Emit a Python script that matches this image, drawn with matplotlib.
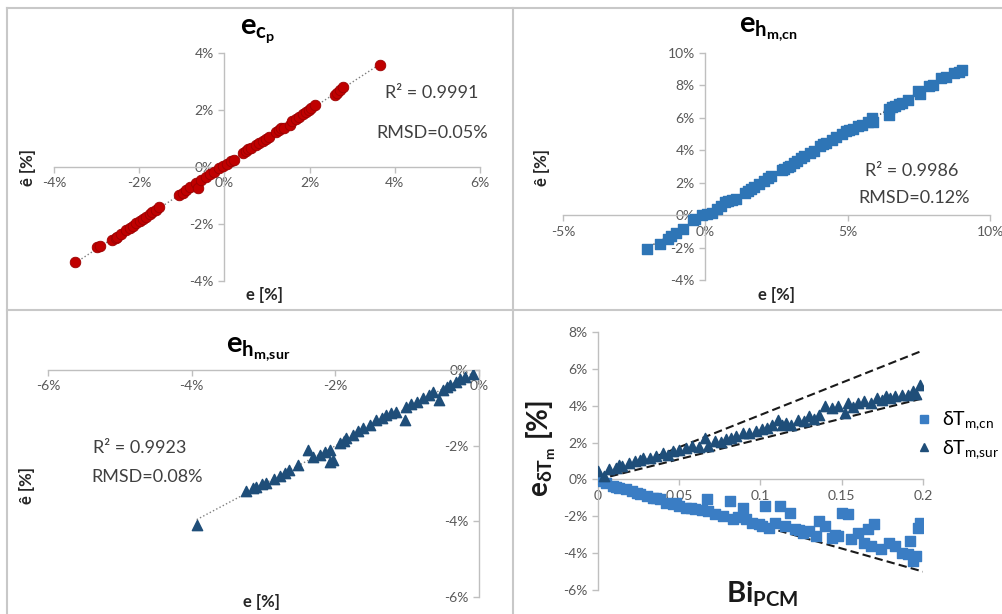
import matplotlib
matplotlib.use("Agg")
import matplotlib.pyplot as plt
import numpy as np
from matplotlib.ticker import FuncFormatter, MultipleLocator
from matplotlib.lines import Line2D

plt.rcParams['font.family'] = ['Lato', 'DejaVu Sans']
plt.rcParams['mathtext.fontset'] = 'custom'
plt.rcParams['mathtext.rm'] = 'Lato'
plt.rcParams['mathtext.it'] = 'Lato:italic'
plt.rcParams['mathtext.bf'] = 'Lato:bold'
plt.rcParams['axes.unicode_minus'] = False

# --- data (values in %) ---
# e_cp
cp_x = [-3.50, -2.98, -2.93, -2.63, -2.55, -2.51, -2.42, -2.31, -2.22, -2.15,
        -2.08, -1.98, -1.90, -1.84, -1.75, -1.69, -1.60, -1.53, -1.06, -0.98,
        -0.90, -0.80, -0.67, -0.63, -0.55, -0.43, -0.33, -0.24, -0.12, -0.04,
        0.05, 0.16, 0.22, 0.43, 0.50, 0.55, 0.62, 0.75, 0.82, 0.90,
        0.98, 1.05, 1.22, 1.28, 1.33, 1.40, 1.53, 1.58, 1.69, 1.75,
        1.84, 1.92, 1.98, 2.04, 2.12, 2.59, 2.65, 2.72, 2.78, 3.65]
cp_y = [-3.32, -2.82, -2.78, -2.56, -2.49, -2.44, -2.34, -2.22, -2.14, -2.06,
        -1.98, -1.90, -1.82, -1.74, -1.66, -1.58, -1.50, -1.40, -0.98, -0.90,
        -0.80, -0.70, -0.55, -0.75, -0.46, -0.36, -0.26, -0.16, -0.05, 0.04,
        0.12, 0.20, 0.24, 0.48, 0.55, 0.62, 0.66, 0.78, 0.84, 0.92,
        1.00, 1.06, 1.22, 1.30, 1.36, 1.38, 1.48, 1.60, 1.70, 1.76,
        1.86, 1.92, 2.00, 2.08, 2.16, 2.52, 2.60, 2.70, 2.80, 3.57]

# e_hm,cn
cn_x = [-2.05, -1.60, -1.30, -1.22, -1.03, -0.80, -0.45, -0.35, -0.10, 0.05,
        0.23, 0.40, 0.55, 0.69, 0.80, 0.92, 1.09, 1.40, 1.49, 1.60,
        1.72, 1.90, 2.07, 2.20, 2.30, 2.70, 2.76, 2.90, 2.99, 3.10,
        3.22, 3.35, 3.45, 3.68, 3.80, 4.02, 4.15, 4.25, 4.45, 4.60,
        4.80, 4.94, 5.05, 5.17, 5.35, 5.52, 5.70, 5.86, 5.90, 6.44,
        6.45, 6.55, 6.67, 6.80, 6.90, 7.13, 7.47, 7.55, 7.87, 8.00,
        8.28, 8.45, 8.74, 8.90, 9.02]
cn_y = [-2.10, -1.75, -1.45, -1.30, -1.08, -0.85, -0.30, -0.25, 0.00, 0.05,
        0.16, 0.37, 0.55, 0.78, 0.85, 0.94, 1.02, 1.35, 1.50, 1.62,
        1.76, 1.92, 2.11, 2.30, 2.42, 2.78, 2.83, 2.95, 3.03, 3.20,
        3.34, 3.50, 3.65, 3.85, 3.95, 4.26, 4.36, 4.47, 4.65, 4.84,
        5.00, 5.18, 5.25, 5.33, 5.48, 5.59, 5.75, 6.00, 5.75, 6.52,
        6.20, 6.65, 6.72, 6.85, 6.93, 7.13, 7.64, 7.45, 7.95, 8.05,
        8.46, 8.55, 8.77, 8.85, 8.93]

# e_hm,sur
sur_x = [-3.93, -3.24, -3.15, -3.10, -3.02, -2.96, -2.85, -2.77, -2.70, -2.64,
         -2.52, -2.38, -2.31, -2.22, -2.15, -2.08, -2.03, -2.08, -1.94, -1.88,
         -1.85, -1.75, -1.68, -1.61, -1.52, -1.43, -1.35, -1.29, -1.22, -1.15,
         -1.03, -1.01, -0.94, -0.87, -0.78, -0.70, -0.64, -0.55, -0.50, -0.45,
         -0.41, -0.32, -0.26, -0.20, -0.09]
sur_y = [-4.09, -3.20, -3.12, -3.08, -3.02, -2.99, -2.88, -2.81, -2.72, -2.64,
         -2.51, -2.11, -2.29, -2.24, -2.18, -2.11, -2.37, -2.42, -1.93, -1.88,
         -1.80, -1.71, -1.62, -1.54, -1.45, -1.32, -1.26, -1.19, -1.14, -1.10,
         -1.32, -0.97, -0.90, -0.84, -0.75, -0.66, -0.57, -0.79, -0.53, -0.46,
         -0.40, -0.31, -0.24, -0.18, -0.10]

# e_dTm vs Bi_PCM
bi_sur = [0.000, 0.004, 0.007, 0.011, 0.015, 0.019, 0.023, 0.028, 0.032, 0.036,
          0.040, 0.046, 0.050, 0.054, 0.058, 0.066, 0.068, 0.072, 0.079, 0.085,
          0.089, 0.093, 0.097, 0.101, 0.107, 0.111, 0.113, 0.119, 0.123, 0.130,
          0.136, 0.140, 0.144, 0.148, 0.152, 0.154, 0.160, 0.164, 0.168, 0.172,
          0.177, 0.183, 0.187, 0.191, 0.194, 0.198,
          0.013, 0.026, 0.043, 0.062, 0.076, 0.082, 0.104, 0.116, 0.127, 0.133,
          0.157, 0.175, 0.180, 0.196]
dT_sur = [0.45, 0.18, 0.54, 0.63, 0.72, 0.90, 0.99, 1.17, 1.17, 1.26,
          1.44, 1.53, 1.62, 1.71, 1.80, 2.26, 1.80, 2.08, 2.17, 2.35,
          2.53, 2.53, 2.62, 2.71, 2.98, 3.25, 2.98, 2.98, 3.25, 3.43,
          3.52, 3.97, 3.88, 3.97, 3.61, 4.15, 4.15, 4.24, 4.15, 4.42,
          4.51, 4.51, 4.60, 4.60, 4.78, 5.14,
          0.80, 1.05, 1.35, 1.75, 2.05, 2.25, 2.80, 3.05, 3.15, 3.30,
          3.95, 4.30, 4.40, 4.65]
bi_cn = [0.000, 0.005, 0.009, 0.013, 0.017, 0.021, 0.026, 0.030, 0.034, 0.038,
         0.042, 0.046, 0.050, 0.054, 0.060, 0.067, 0.068, 0.072, 0.077, 0.081,
         0.083, 0.089, 0.091, 0.095, 0.099, 0.103, 0.105, 0.109, 0.112, 0.115,
         0.118, 0.121, 0.126, 0.130, 0.134, 0.136, 0.140, 0.144, 0.148, 0.150,
         0.154, 0.156, 0.160, 0.164, 0.166, 0.168, 0.170, 0.174, 0.179, 0.183,
         0.187, 0.191, 0.192, 0.194, 0.196, 0.197, 0.198,
         0.011, 0.024, 0.036, 0.048, 0.057, 0.064, 0.086, 0.101, 0.124, 0.146]
dT_cn = [-0.09, -0.18, -0.36, -0.45, -0.54, -0.63, -0.81, -0.90, -0.99, -1.08,
         -1.26, -1.35, -1.44, -1.53, -1.62, -1.08, -1.71, -1.90, -1.99, -1.17,
         -2.17, -1.53, -2.17, -2.35, -2.44, -1.44, -2.62, -2.35, -1.44, -2.53,
         -1.80, -2.71, -2.89, -2.80, -3.07, -2.26, -2.53, -3.16, -3.07, -1.80,
         -1.90, -3.25, -2.89, -3.43, -2.71, -3.61, -2.44, -3.79, -3.43, -3.61,
         -3.97, -4.06, -3.34, -4.42, -4.15, -2.62, -2.35,
         -0.40, -0.72, -1.02, -1.30, -1.55, -1.65, -2.05, -2.55, -2.75, -3.00]

# dashed envelope lines
bound_x = [0.0, 0.2]
bound_upper = [0.0, 7.0]
bound_mid = [0.0, 4.4]
bound_lower = [0.0, -5.0]

W, H = 1003, 614
fig = plt.figure(figsize=(W / 100, H / 100), dpi=100)

AXC = '#BFBFBF'
TXT = '#595959'


def px_axes(x0, x1, y_top, y_bot):
    return fig.add_axes([x0 / W, 1 - y_bot / H, (x1 - x0) / W, (y_bot - y_top) / H])


def style(ax, xlim, ylim, xstep, ystep, xpct=True):
    ax.set_xlim(*xlim)
    ax.set_ylim(*ylim)
    ax.patch.set_alpha(0)
    for s in ['top', 'right']:
        ax.spines[s].set_visible(False)
    ax.spines['left'].set_position(('data', 0))
    ax.spines['bottom'].set_position(('data', 0))
    for s in ['left', 'bottom']:
        ax.spines[s].set_color(AXC)
        ax.spines[s].set_linewidth(1.0)
    ax.xaxis.set_major_locator(MultipleLocator(xstep))
    ax.yaxis.set_major_locator(MultipleLocator(ystep))
    if xpct:
        ax.xaxis.set_major_formatter(FuncFormatter(lambda v, p: f"{v:.0f}%"))
    else:
        ax.xaxis.set_major_formatter(FuncFormatter(lambda v, p: f"{v:g}"))
    ax.yaxis.set_major_formatter(FuncFormatter(lambda v, p: f"{v:.0f}%"))
    ax.tick_params(colors=AXC, labelcolor=TXT, labelsize=10, length=4, width=1.0, direction='out')


def trend(ax, x, y, color):
    k, b = np.polyfit(x, y, 1)
    xs = np.array([min(x), max(x)])
    ax.plot(xs, k * xs + b, ':', color=color, linewidth=1.0, zorder=2)


note = dict(fontsize=13, color='#404040', ha='center', va='center')

# panel 1: e_cp
ax1 = px_axes(54, 480, 53, 281)
style(ax1, (-4, 6), (-4, 4), 2, 2)
trend(ax1, cp_x, cp_y, '#7F7F7F')
ax1.scatter(cp_x, cp_y, s=58, marker='o', color='#C00000', edgecolor='#9A0000', linewidth=0.6, zorder=3)
ax1.text(4.87, 2.6, 'R² = 0.9991', **note)
ax1.text(4.87, 1.2, 'RMSD=0.05%', **note)

# panel 2: e_hm,cn
ax2 = px_axes(563, 990, 53, 280)
style(ax2, (-5, 10), (-4, 10), 5, 2)
trend(ax2, cn_x, cn_y, '#404040')
ax2.scatter(cn_x, cn_y, s=50, marker='s', color='#2E75B6', edgecolor='#2E75B6', zorder=3)
ax2.text(7.26, 2.7, 'R² = 0.9986', **note)
ax2.text(7.35, 1.05, 'RMSD=0.12%', **note)

# panel 3: e_hm,sur
ax3 = px_axes(48, 479, 370, 597)
style(ax3, (-6, 0), (-6, 0), 2, 2)
trend(ax3, sur_x, sur_y, '#7F7F7F')
ax3.scatter(sur_x, sur_y, s=55, marker='^', color='#1F4E79', edgecolor='#1F4E79', zorder=3)
ax3.text(-4.72, -2.06, 'R² = 0.9923', **note)
ax3.text(-4.62, -2.82, 'RMSD=0.08%', **note)

# panel 4: e_dTm
ax4 = px_axes(598, 923, 332, 590)
style(ax4, (0, 0.2), (-6, 8), 0.05, 2, xpct=False)
for yy in (bound_upper, bound_mid, bound_lower):
    ax4.plot(bound_x, yy, '--', color='#1A1A1A', linewidth=1.5, dashes=(4, 2), zorder=2)
ax4.scatter(bi_cn, dT_cn, s=48, marker='s', color='#3A7DC4', edgecolor='#3A7DC4', zorder=3)
ax4.scatter(bi_sur, dT_sur, s=55, marker='^', color='#1F4E79', edgecolor='#1F4E79', zorder=4)
handles = [Line2D([], [], linestyle='', marker='s', markersize=6, color='#3A7DC4'),
           Line2D([], [], linestyle='', marker='^', markersize=6, color='#1F4E79')]
ax4.legend(handles, ['δT$_{\\mathregular{m{,}cn}}$', 'δT$_{\\mathregular{m{,}sur}}$'],
           loc='center left', bbox_to_anchor=(0.92, 0.6), frameon=False,
           fontsize=14, handletextpad=0.4, labelspacing=0.3, handlelength=1.0)

# titles and axis labels
fig.text(258 / W, 1 - 32 / H, r'$\mathbf{e_{c_p}}$', fontsize=21, ha='center', va='center')
fig.text(768 / W, 1 - 30 / H, r'$\mathbf{e_{h_{m{,}cn}}}$', fontsize=21, ha='center', va='center')
fig.text(258 / W, 1 - 350 / H, r'$\mathbf{e_{h_{m{,}sur}}}$', fontsize=21, ha='center', va='center')

lab = dict(fontsize=12, fontweight='bold', color='#262626', ha='center', va='center')
fig.text(265 / W, 1 - 295 / H, 'e [%]', **lab)
fig.text(28 / W, 1 - 168 / H, 'ê [%]', rotation=90, **lab)
fig.text(777 / W, 1 - 295 / H, 'e [%]', **lab)
fig.text(542 / W, 1 - 167 / H, 'ê [%]', rotation=90, **lab)
fig.text(262 / W, 1 - 602 / H, 'e [%]', **lab)
fig.text(27 / W, 1 - 485 / H, 'ê [%]', rotation=90, **lab)
fig.text(762 / W, 1 - 594 / H, r'$\mathbf{Bi_{PCM}}$', fontsize=21, color='#1A1A1A', ha='center', va='center')
fig.text(541 / W, 1 - 448 / H, r'$\mathbf{e_{δT_m}}$ [%]', fontsize=20, fontweight='bold',
         rotation=90, color='#1A1A1A', ha='center', va='center')

# panel borders
bc = '#C8C8C8'
fig.add_artist(Line2D([7 / W, 1], [1 - 8 / H, 1 - 8 / H], color=bc, linewidth=1.5))
fig.add_artist(Line2D([7 / W, 7 / W], [0, 1 - 8 / H], color=bc, linewidth=1.5))
fig.add_artist(Line2D([513 / W, 513 / W], [0, 1 - 8 / H], color=bc, linewidth=1.5))
fig.add_artist(Line2D([7 / W, 1], [1 - 310 / H, 1 - 310 / H], color=bc, linewidth=1.5))

fig.savefig('out.png', dpi=100)
